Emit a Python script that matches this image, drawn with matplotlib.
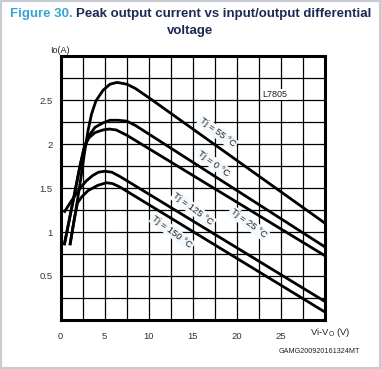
import matplotlib
matplotlib.use("Agg")
import matplotlib.pyplot as plt
from matplotlib.patches import Rectangle
import numpy as np

plt.rcParams['font.family'] = ['Liberation Sans', 'DejaVu Sans']

# curves (Vi-Vo in V, Io in A)
x_55 = [1.05, 1.5, 1.9, 2.3, 2.7, 3.1, 3.5, 4.0, 4.8, 5.6, 6.4, 7.5, 8.5, 10.1, 30]
y_55 = [0.85, 1.12, 1.36, 1.62, 1.90, 2.15, 2.34, 2.49, 2.61, 2.68, 2.70, 2.68, 2.63, 2.52, 1.10]

x_0 = [0.4, 1.0, 1.6, 2.2, 2.6, 3.1, 3.9, 4.8, 5.6, 6.5, 7.5, 8.5, 30]
y_0 = [0.85, 1.15, 1.45, 1.75, 1.93, 2.08, 2.19, 2.24, 2.27, 2.27, 2.26, 2.21, 0.83]

x_25 = [0.4, 1.0, 1.6, 2.2, 2.7, 3.2, 3.9, 4.8, 5.5, 6.3, 7.5, 30]
y_25 = [0.85, 1.15, 1.45, 1.76, 1.97, 2.07, 2.13, 2.16, 2.17, 2.16, 2.10, 0.73]

x_125 = [0.37, 1.0, 1.6, 2.3, 2.9, 3.6, 4.3, 5.0, 5.8, 6.74, 30]
y_125 = [1.22, 1.32, 1.41, 1.51, 1.58, 1.64, 1.68, 1.69, 1.68, 1.63, 0.21]

x_150 = [1.05, 1.5, 1.9, 2.4, 3.1, 4.2, 5.2, 5.9, 6.74, 30]
y_150 = [0.85, 1.12, 1.33, 1.40, 1.47, 1.53, 1.56, 1.55, 1.51, 0.09]

curve_labels = ["Tj = 55 °C", "Tj = 0 °C", "Tj = 25 °C", "Tj = 125 °C", "Tj = 150 °C"]
label_pos = [(17.8, 2.13), (17.4, 1.78), (21.3, 1.10), (15.05, 1.26), (12.67, 1.0)]

x_ticks = [0, 5, 10, 15, 20, 25]
y_ticks = [0.5, 1, 1.5, 2, 2.5]

fig = plt.figure(figsize=(3.81, 3.69), dpi=100)
fig.patches.append(Rectangle((0, 0), 1, 1, transform=fig.transFigure,
                             fill=False, edgecolor='#c5ccd2', linewidth=3))

# two-colour title line, centred as a whole
t1 = fig.text(0, 0.963, "Figure 30. ", color='#3aa3d6', fontsize=9.5,
              fontweight='bold', ha='left', va='center')
t2 = fig.text(0, 0.963, "Peak output current vs input/output differential",
              color='#1c2a55', fontsize=9.5, fontweight='bold', ha='left', va='center')
fig.text(0.5, 0.917, "voltage", color='#1c2a55', fontsize=9.5,
         fontweight='bold', ha='center', va='center')
fig.canvas.draw()
r = fig.canvas.get_renderer()
w1 = t1.get_window_extent(r).width / fig.bbox.width
w2 = t2.get_window_extent(r).width / fig.bbox.width
x0 = 0.5 - (w1 + w2) / 2
t1.set_x(x0)
t2.set_x(x0 + w1)

ax = fig.add_axes([0.1593, 0.1328, 0.6937, 0.7154])
ax.set_xlim(0, 30)
ax.set_ylim(0, 3)

ax.set_xticks(np.arange(0, 30.01, 2.5), minor=True)
ax.set_yticks(np.arange(0, 3.01, 0.25), minor=True)
ax.set_xticks(x_ticks)
ax.set_xticklabels([str(v) for v in x_ticks])
ax.set_yticks(y_ticks)
ax.set_yticklabels([f"{v:g}" for v in y_ticks])
ax.tick_params(which='both', length=0, labelsize=6.8, colors='#333333')
ax.tick_params(axis='x', pad=9)
ax.tick_params(axis='y', pad=6)
ax.grid(which='both', color='black', linewidth=0.9, zorder=1)
ax.set_axisbelow(True)
for s in ax.spines.values():
    s.set_linewidth(2.2)

for xs, ys in [(x_55, y_55), (x_0, y_0), (x_25, y_25), (x_125, y_125), (x_150, y_150)]:
    ax.plot(xs, ys, color='black', linewidth=2.0, solid_joinstyle='round',
            solid_capstyle='butt', zorder=4, clip_on=False)

for lab, (lx, ly) in zip(curve_labels, label_pos):
    ax.text(lx, ly, lab, fontsize=6.8, rotation=-37, ha='center', va='center',
            rotation_mode='anchor', color='#222222', zorder=3,
            bbox=dict(boxstyle='square,pad=0.15', facecolor='#f3f9fc', edgecolor='none'))

ax.text(24.3, 2.56, "L7805", fontsize=6.5, ha='center', va='center', color='#222222',
        bbox=dict(boxstyle='square,pad=0.1', facecolor='white', edgecolor='none'), zorder=3)

fig.text(0.156, 0.864, "Io(A)", fontsize=6.5, ha='center', va='center', color='#222222')
fig.text(0.866, 0.098, "Vi-V$_{\\rm O}$ (V)", fontsize=6.8, ha='center', va='center',
         color='#222222')
fig.text(0.837, 0.047, "GAMG200920161324MT", fontsize=5.2, ha='center', va='center',
         color='#222222')

fig.savefig("out.png", dpi=100, facecolor='white')
